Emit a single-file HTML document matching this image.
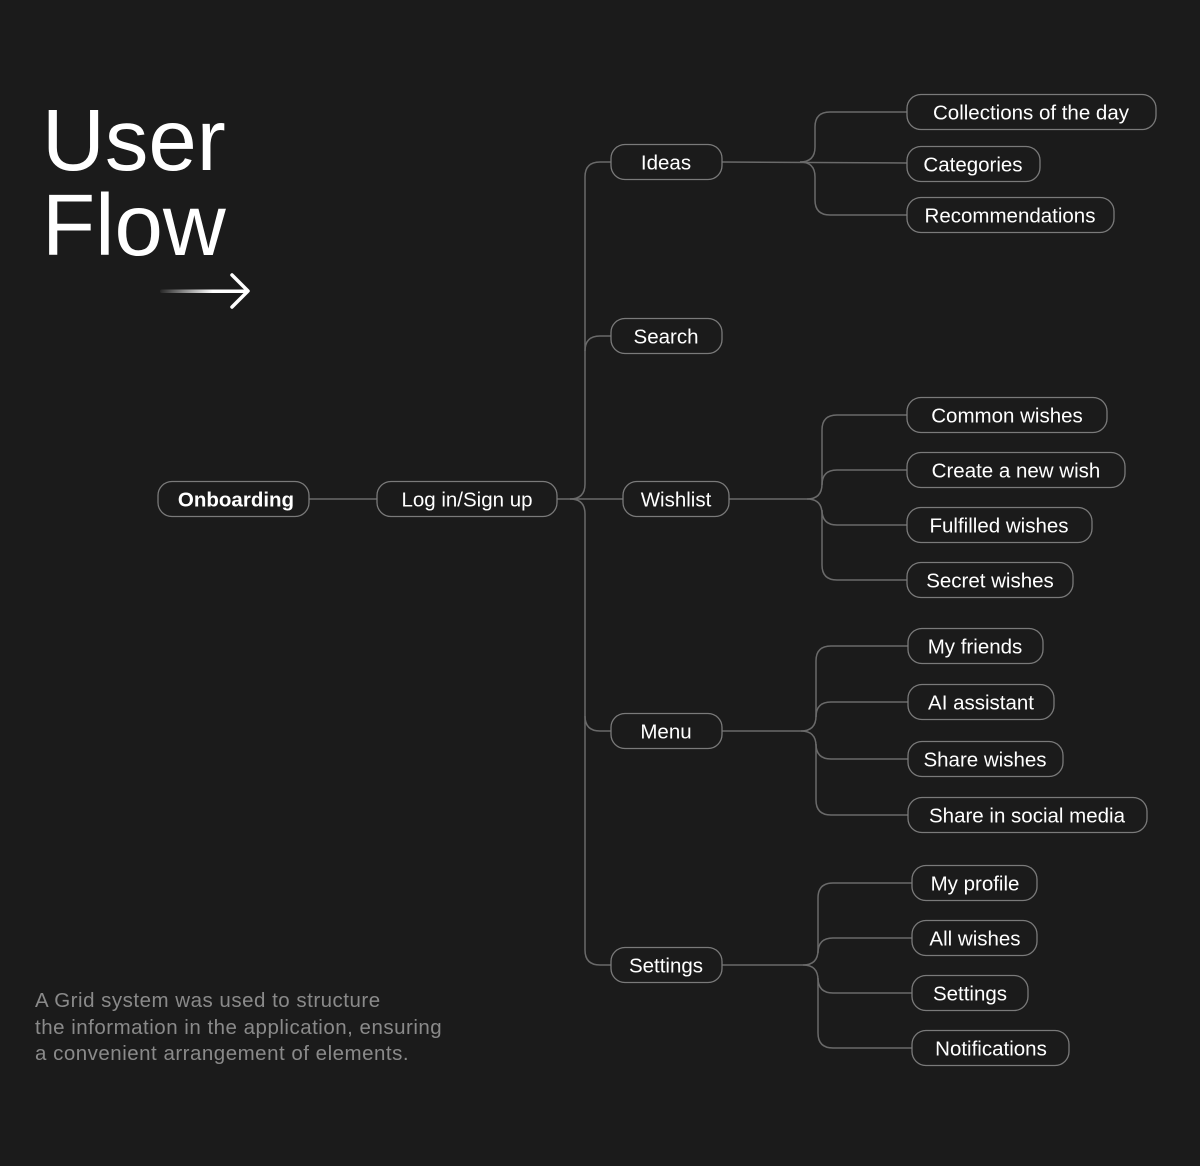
<!DOCTYPE html>
<html><head><meta charset="utf-8"><style>
html,body{margin:0;padding:0;background:#1b1b1b;}
svg{display:block}
</style></head><body>
<svg width="1200" height="1166" viewBox="0 0 1200 1166" xmlns="http://www.w3.org/2000/svg" font-family="'Liberation Sans', sans-serif">
<defs>
<linearGradient id="g" gradientUnits="userSpaceOnUse" x1="160" y1="0" x2="248" y2="0"><stop offset="0" stop-color="#fff" stop-opacity="0.05"/><stop offset="0.6" stop-color="#fff"/></linearGradient>
</defs>
<rect width="1200" height="1166" fill="#1b1b1b"/>
<text x="42" y="170" font-size="87" fill="#fff">User</text>
<text x="42" y="255" font-size="87" fill="#fff">Flow</text>
<rect x="160" y="289.5" width="88" height="3.5" rx="1.7" fill="url(#g)"/>
<polyline points="232,275 248,291 232,307" fill="none" stroke="#fff" stroke-width="3.5" stroke-linecap="round" stroke-linejoin="round"/>
<g fill="#8a8a8a" font-size="20.5" letter-spacing="0.5">
<text x="35" y="1007">A Grid system was used to structure</text>
<text x="35" y="1034">the information in the application, ensuring</text>
<text x="35" y="1060">a convenient arrangement of elements.</text>
</g>
<g fill="none" stroke="#6a6a6a" stroke-width="1.5">
<path d="M309 499 L377 499"/>
<path d="M557 499 L623 499"/>
<path d="M570 499 Q585 499 585 484 L585 177 Q585 162 600 162 L611 162"/>
<path d="M585 351 Q585 336 600 336 L611 336"/>
<path d="M585 716 Q585 731 600 731 L611 731"/>
<path d="M570 499 Q585 499 585 514 L585 950 Q585 965 600 965 L611 965"/>
<path d="M722 162 L907 163"/>
<path d="M800 162 Q815 162 815 147 L815 127 Q815 112 830 112 L907 112"/>
<path d="M800 162 Q815 162 815 177 L815 200 Q815 215 830 215 L907 215"/>
<path d="M729 499 L807 499"/>
<path d="M807 499 Q822 499 822 484 L822 430 Q822 415 837 415 L907 415"/>
<path d="M822 485 Q822 470 837 470 L907 470"/>
<path d="M822 510 Q822 525 837 525 L907 525"/>
<path d="M807 499 Q822 499 822 514 L822 565 Q822 580 837 580 L907 580"/>
<path d="M722 731 L801 731"/>
<path d="M801 731 Q816 731 816 716 L816 661 Q816 646 831 646 L908 646"/>
<path d="M816 717 Q816 702 831 702 L908 702"/>
<path d="M816 744 Q816 759 831 759 L908 759"/>
<path d="M801 731 Q816 731 816 746 L816 800 Q816 815 831 815 L908 815"/>
<path d="M722 965 L803 965"/>
<path d="M803 965 Q818 965 818 950 L818 898 Q818 883 833 883 L912 883"/>
<path d="M818 953 Q818 938 833 938 L912 938"/>
<path d="M818 978 Q818 993 833 993 L912 993"/>
<path d="M803 965 Q818 965 818 980 L818 1033 Q818 1048 833 1048 L912 1048"/>
</g>
<g fill="#1b1b1b" stroke="#7a7a7a" stroke-width="1.3">
<rect x="158" y="481.5" width="151" height="35" rx="14"/>
<rect x="377" y="481.5" width="180" height="35" rx="14"/>
<rect x="611" y="144.5" width="111" height="35" rx="14"/>
<rect x="611" y="318.5" width="111" height="35" rx="14"/>
<rect x="623" y="481.5" width="106" height="35" rx="14"/>
<rect x="611" y="713.5" width="111" height="35" rx="14"/>
<rect x="611" y="947.5" width="111" height="35" rx="14"/>
<rect x="907" y="94.5" width="249" height="35" rx="14"/>
<rect x="907" y="146.5" width="133" height="35" rx="14"/>
<rect x="907" y="197.5" width="207" height="35" rx="14"/>
<rect x="907" y="397.5" width="200" height="35" rx="14"/>
<rect x="907" y="452.5" width="218" height="35" rx="14"/>
<rect x="907" y="507.5" width="185" height="35" rx="14"/>
<rect x="907" y="562.5" width="166" height="35" rx="14"/>
<rect x="908" y="628.5" width="135" height="35" rx="14"/>
<rect x="908" y="684.5" width="146" height="35" rx="14"/>
<rect x="908" y="741.5" width="155" height="35" rx="14"/>
<rect x="908" y="797.5" width="239" height="35" rx="14"/>
<rect x="912" y="865.5" width="125" height="35" rx="14"/>
<rect x="912" y="920.5" width="125" height="35" rx="14"/>
<rect x="912" y="975.5" width="116" height="35" rx="14"/>
<rect x="912" y="1030.5" width="157" height="35" rx="14"/>
</g>
<g fill="#fff" font-size="20.5" text-anchor="middle">
<text x="236" y="506.5" font-weight="bold">Onboarding</text>
<text x="467" y="506.5">Log in/Sign up</text>
<text x="666" y="169.5">Ideas</text>
<text x="666" y="343.5">Search</text>
<text x="676" y="506.5">Wishlist</text>
<text x="666" y="738.5">Menu</text>
<text x="666" y="972.5">Settings</text>
<text x="1031" y="119.5">Collections of the day</text>
<text x="973" y="171.5">Categories</text>
<text x="1010" y="222.5">Recommendations</text>
<text x="1007" y="422.5">Common wishes</text>
<text x="1016" y="477.5">Create a new wish</text>
<text x="999" y="532.5">Fulfilled wishes</text>
<text x="990" y="587.5">Secret wishes</text>
<text x="975" y="653.5">My friends</text>
<text x="981" y="709.5">AI assistant</text>
<text x="985" y="766.5">Share wishes</text>
<text x="1027" y="822.5">Share in social media</text>
<text x="975" y="890.5">My profile</text>
<text x="975" y="945.5">All wishes</text>
<text x="970" y="1000.5">Settings</text>
<text x="991" y="1055.5">Notifications</text>
</g>
</svg>
</body></html>
